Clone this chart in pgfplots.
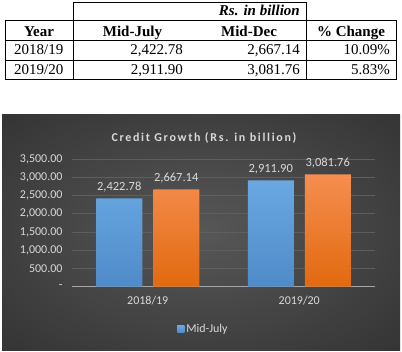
\documentclass[border=0pt]{standalone}
\usepackage{pgfplots}
\pgfplotsset{compat=1.18}
\usepackage{fontspec}
\setmainfont{Liberation Serif}
\newfontfamily\calfont{Carlito}
\newfontfamily\caltitle[LetterSpace=14]{Carlito}
\definecolor{bgin}{HTML}{575757}
\definecolor{bgout}{HTML}{262626}
\definecolor{txt}{HTML}{D9D9D9}
\definecolor{gridc}{HTML}{5E5E5E}
\definecolor{axc}{HTML}{A6A6A6}
\definecolor{blueT}{HTML}{6AA8E2}
\definecolor{blueB}{HTML}{4E8BC8}
\definecolor{oraT}{HTML}{F58E50}
\definecolor{oraB}{HTML}{E2690F}
\definecolor{legblue}{HTML}{5B9BD5}
\pgfdeclareradialshading{bgshade}{\pgfpoint{0bp}{0bp}}{color(0bp)=(bgin); color(50bp)=(bgout)}
\begin{document}
\begin{tikzpicture}
\useasboundingbox (0,0) rectangle (402bp,-352bp);
\begin{scope}[x=1bp,y=-1bp]
% ---------- table ----------
\draw[line width=0.8bp] (73,2) -- (306,2);
\foreach \yy in {20,40.5,60.5,79} \draw[line width=0.8bp] (5,\yy) -- (396.5,\yy);
\draw[line width=0.8bp] (5,20) -- (5,79);
\draw[line width=0.8bp] (73,2) -- (73,79);
\draw[line width=0.8bp] (306,2) -- (306,79);
\draw[line width=0.8bp] (396.5,20) -- (396.5,79);
\tikzset{tf/.style={font=\fontsize{15bp}{18bp}\selectfont, inner sep=0pt}}
\node[tf, font=\fontsize{15bp}{18bp}\selectfont\bfseries\itshape, anchor=base east] at (300,15) {Rs. in billion};
\node[tf, font=\fontsize{15bp}{18bp}\selectfont\bfseries, anchor=base] at (39,36.7) {Year};
\node[tf, font=\fontsize{15bp}{18bp}\selectfont\bfseries, anchor=base] at (132.5,36.7) {Mid-July};
\node[tf, font=\fontsize{15bp}{18bp}\selectfont\bfseries, anchor=base] at (249,36.7) {Mid-Dec};
\node[tf, font=\fontsize{15bp}{18bp}\selectfont\bfseries, anchor=base] at (351,36.7) {\% Change};
\node[tf, anchor=base] at (38.7,54.3) {2018/19};
\node[tf, anchor=base east] at (183,54.3) {2,422.78};
\node[tf, anchor=base east] at (300,54.3) {2,667.14};
\node[tf, anchor=base east] at (390,54.3) {10.09\%};
\node[tf, anchor=base] at (38.7,74) {2019/20};
\node[tf, anchor=base east] at (183,74) {2,911.90};
\node[tf, anchor=base east] at (300,74) {3,081.76};
\node[tf, anchor=base east] at (390,74) {5.83\%};
% ---------- chart background ----------
\shade[shading=bgshade] (2,114) rectangle (400,350);
\node[font=\caltitle\bfseries\fontsize{12bp}{14bp}\selectfont, text=txt, anchor=base, inner sep=0pt] at (204,141.5) {Credit Growth (Rs. in billion)};
\end{scope}
\begin{axis}[
  at={(72bp,-286.7bp)}, anchor=south west,
  scale only axis, width=303bp, height=127.7bp,
  xmin=-0.5, xmax=1.5, ymin=0, ymax=3500,
  ybar, bar width=46bp,
  xtick={0,1}, xticklabels={2018/19,2019/20},
  ytick={0,500,1000,1500,2000,2500,3000,3500},
  yticklabels={-\hspace{5bp},500.00,{1,000.00},{1,500.00},{2,000.00},{2,500.00},{3,000.00},{3,500.00}},
  ymajorgrids, grid style={gridc, line width=0.8bp},
  axis line style={draw=none},
  major tick length=0pt,
  tick label style={font=\calfont\fontsize{12bp}{14bp}\selectfont, text=txt},
  yticklabel style={xshift=-6bp},
  xticklabel style={yshift=-6bp},
  clip=false,
  nodes near coords={\pgfmathprintnumber[fixed,fixed zerofill,precision=2,1000 sep={,},assume math mode=true]{\pgfplotspointmeta}},
  every node near coord/.append style={font=\calfont\fontsize{12.5bp}{15bp}\selectfont, text=txt, yshift=3bp},
  legend style={at={(0.434,-0.331)}, anchor=center, draw=none, fill=none, font=\calfont\fontsize{12bp}{14bp}\selectfont, text=txt, legend columns=-1},
  legend image code/.code={\fill[legblue] (0bp,-3.5bp) rectangle (7bp,3.5bp);},
]
\draw[axc, line width=0.8bp] (axis cs:-0.5,0) -- (axis cs:1.5,0);
\addplot[draw=none, top color=blueT, bottom color=blueB, bar shift=-28.5bp] coordinates {(0,2422.78) (1,2911.90)};
\addlegendentry{Mid-July}
\addplot[draw=none, top color=oraT, bottom color=oraB, bar shift=28.5bp] coordinates {(0,2667.14) (1,3081.76)};
\end{axis}
\end{tikzpicture}
\end{document}
